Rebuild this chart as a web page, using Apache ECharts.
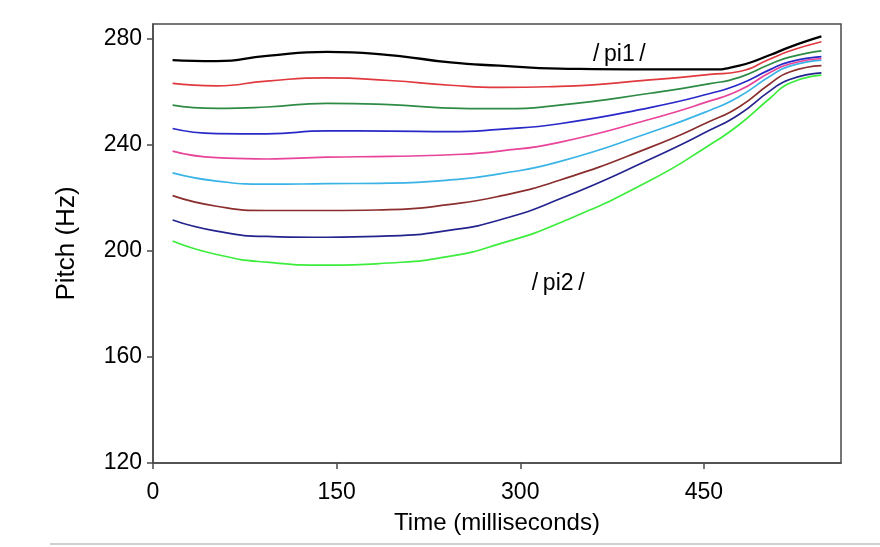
<!DOCTYPE html>
<html>
<head>
<meta charset="utf-8">
<title>Pitch contours /pi1/ – /pi2/</title>
<script src="https://cdn.jsdelivr.net/npm/echarts@6/dist/echarts.min.js"></script>
<style>
  html, body { margin: 0; padding: 0; background: #ffffff; }
  #chart { width: 880px; height: 547px; }
</style>
</head>
<body>
<div id="chart"></div>
<script>
// Sample times (ms) shared by all nine contours
const times = [16, 52, 93, 142, 193, 243, 283, 332, 406, 455, 479, 504, 520, 546];

// Pitch contours (Hz), from the /pi1/ end (top) down to the /pi2/ end (bottom)
const contourBlack      = [271.9, 271.5, 273.5, 275.0, 273.8, 271.0, 269.8, 268.7, 268.4, 268.4, 269.8, 273.8, 276.8, 280.8];
const contourRed        = [263.1, 262.2, 264.0, 265.2, 264.2, 262.4, 261.6, 262.0, 264.4, 266.5, 267.6, 272.3, 275.3, 278.8];
const contourGreen      = [254.9, 253.7, 254.2, 255.6, 255.1, 253.8, 253.6, 254.9, 259.4, 263.0, 265.4, 270.3, 273.0, 275.4];
const contourBlue       = [246.1, 244.2, 244.1, 245.2, 245.1, 244.9, 245.8, 247.9, 254.0, 259.3, 262.8, 268.3, 271.2, 273.2];
const contourPink       = [237.6, 235.1, 234.6, 235.3, 235.6, 236.2, 237.6, 240.9, 249.6, 256.5, 260.5, 267.2, 270.4, 272.5];
const contourCyan       = [229.4, 226.3, 225.1, 225.3, 225.5, 226.7, 229.0, 233.6, 244.6, 253.0, 258.2, 265.8, 269.6, 271.9];
const contourBrown      = [220.8, 216.8, 215.2, 215.2, 215.5, 217.5, 220.6, 226.6, 239.0, 248.8, 254.3, 263.0, 267.4, 269.8];
const contourNavy       = [211.6, 207.4, 205.4, 205.1, 205.6, 207.8, 211.6, 219.5, 234.5, 245.5, 251.5, 260.3, 264.6, 267.1];
const contourLightGreen = [203.7, 198.6, 195.7, 194.6, 195.4, 198.0, 202.6, 210.5, 226.5, 240.0, 247.6, 257.5, 263.2, 266.2];

const contours = [contourBlack, contourRed, contourGreen, contourBlue, contourPink,
                  contourCyan, contourBrown, contourNavy, contourLightGreen];
const contourColors = ['#000000', '#e0393e', '#2e8b46', '#2929c8', '#e8449a',
                       '#3ab4e6', '#8b2e2e', '#24248e', '#3ded3d'];

// Tick labels
const xTicks = [0, 150, 300, 450];
const yTicks = [120, 160, 200, 240, 280];

// Text annotations: label, time (ms), pitch (Hz)
const annotationLabels = ['/\u2009pi1\u2009/', '/\u2009pi2\u2009/'];
const annotationTimes  = [381, 331];
const annotationPitch  = [273.8, 187.5];

const FONT = '"Liberation Sans", Arial, Helvetica, sans-serif';
const AXIS_COLOR = '#4a4a4a';
const TEXT_COLOR = '#000000';

const chart = echarts.init(document.getElementById('chart'), null, { renderer: 'canvas' });

const lineSeries = contours.map((vals, i) => ({
  type: 'line',
  data: times.map((t, j) => [t, vals[j]]),
  smooth: 0.55,
  showSymbol: false,
  silent: true,
  z: 10 - i,
  lineStyle: { color: contourColors[i], width: i === 0 ? 2.3 : 1.7 },
  itemStyle: { color: contourColors[i] }
}));

const annotationSeries = {
  type: 'scatter',
  symbolSize: 0,
  silent: true,
  itemStyle: { opacity: 1 },
  data: annotationLabels.map((s, i) => ({ value: [annotationTimes[i], annotationPitch[i]], name: s })),
  label: {
    show: true,
    position: 'inside',
    formatter: p => p.name,
    fontFamily: FONT,
    fontSize: 23,
    color: TEXT_COLOR,
    opacity: 1
  },
  z: 20
};

chart.setOption({
  animation: false,
  backgroundColor: '#ffffff',
  grid: {
    left: 153, right: 39, top: 24, bottom: 84,
    show: true,
    borderColor: AXIS_COLOR,
    borderWidth: 1.5,
    backgroundColor: 'transparent',
    outerBoundsMode: 'none'
  },
  xAxis: {
    type: 'value',
    min: 0,
    max: 562,
    interval: 150,
    name: 'Time (milliseconds)',
    nameLocation: 'middle',
    nameGap: 48,
    nameTextStyle: { fontFamily: FONT, fontSize: 24, color: TEXT_COLOR },
    axisLine: { show: true, lineStyle: { color: AXIS_COLOR, width: 1.5 } },
    axisTick: { show: true, length: 6, customValues: xTicks, lineStyle: { color: AXIS_COLOR, width: 1.5 } },
    axisLabel: { customValues: xTicks, fontFamily: FONT, fontSize: 23, color: TEXT_COLOR, margin: 18 },
    splitLine: { show: false }
  },
  yAxis: {
    type: 'value',
    min: 120,
    max: 285.5,
    interval: 40,
    name: 'Pitch (Hz)',
    nameLocation: 'middle',
    nameGap: 73,
    nameRotate: 90,
    nameTextStyle: { fontFamily: FONT, fontSize: 26, color: TEXT_COLOR },
    axisLine: { show: true, lineStyle: { color: AXIS_COLOR, width: 1.5 } },
    axisTick: { show: true, length: 6, customValues: yTicks, lineStyle: { color: AXIS_COLOR, width: 1.5 } },
    axisLabel: { customValues: yTicks, fontFamily: FONT, fontSize: 23, color: TEXT_COLOR, margin: 11 },
    splitLine: { show: false }
  },
  graphic: [{
    type: 'line',
    shape: { x1: 50, y1: 544, x2: 880, y2: 544 },
    style: { stroke: '#d0d0d0', lineWidth: 2 },
    silent: true
  }],
  series: lineSeries.concat([annotationSeries])
});
</script>
</body>
</html>
